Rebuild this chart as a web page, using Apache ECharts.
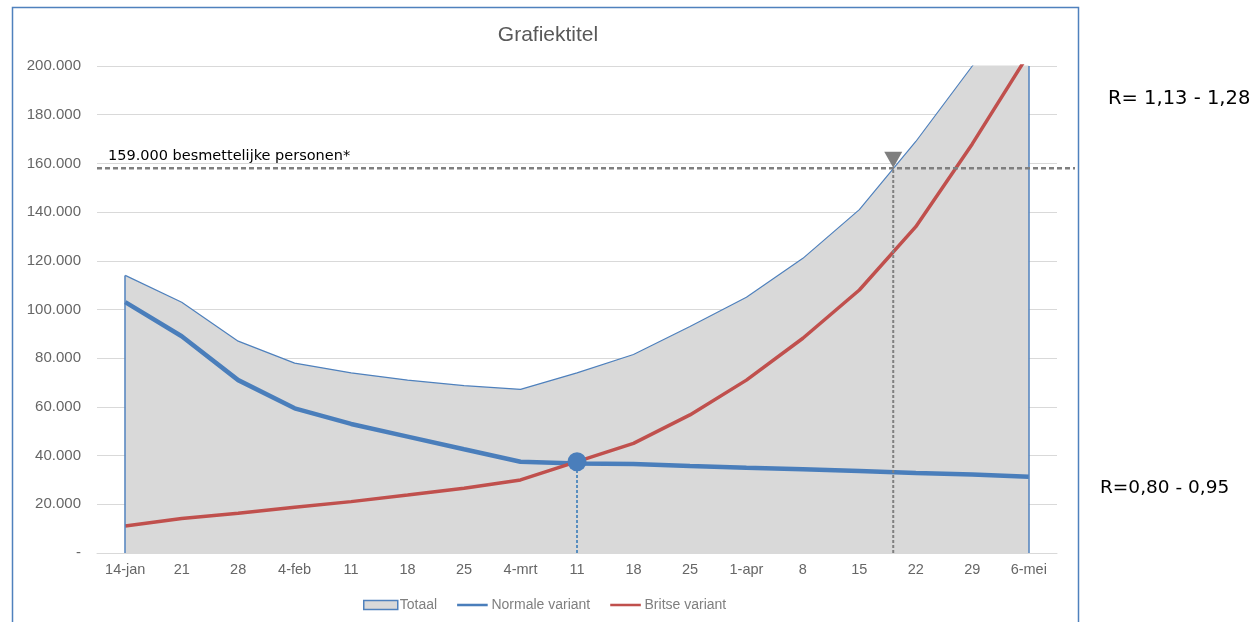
<!DOCTYPE html>
<html><head><meta charset="utf-8">
<script src="https://cdn.jsdelivr.net/npm/echarts@6/dist/echarts.min.js"></script>
<style>html,body{margin:0;padding:0;background:#fff}#c{width:1254px;height:622px}</style>
</head><body><div id="c"></div>
<script>
const categories = ['14-jan','21','28','4-feb','11','18','25','4-mrt','11','18','25','1-apr','8','15','22','29','6-mei'];
const totaal   = [114000,103000,87000,78000,74000,71000,68700,67200,74000,81500,93000,105000,121000,141000,169000,200000,236000];
const normale  = [103000,89000,71000,59400,53000,47800,42600,37500,36800,36500,35700,35000,34400,33700,32900,32200,31300];
const britse   = [11100,14200,16300,18800,21100,23800,26600,30000,37500,45000,56700,71000,88200,108000,134000,168000,205000];
const yTicks = { min: 0, max: 200000, interval: 20000 };
const drempel = 158000;            // 159.000 besmettelijke personen
const drempelLabel = '159.000 besmettelijke personen*';
const kruispuntIndex = 8;          // 11-mrt
const kruispuntWaarde = 37500;
const drempelIndex = 13.6;         // ~19-apr
const lineStartIndex = -0.5;
const triangleValue = 161500;
const rHoog = 'R= 1,13 - 1,28';
const rLaag = 'R=0,80 - 0,95';

const sans = "'Liberation Sans',Arial,sans-serif";
const wide = "'DejaVu Sans',sans-serif";
const fmt = v => v === 0 ? '-' : String(v).replace(/\B(?=(\d{3})+(?!\d))/g, '.');
const lineIcon = 'path://M0,0 L0,0 M34,10 L34,10 M0,3.6 H34 V6.4 H0 Z';

const BORDER = { x: 10, y: 5, w: 1066, h: 640 };

const chart = echarts.init(document.getElementById('c'));
chart.setOption({
  animation: false,
  title: { text: 'Grafiektitel', left: 543, top: 20, textAlign: 'center',
    textStyle: { fontFamily: sans, fontWeight: 'normal', fontSize: 21, color: '#595959' } },
  grid: { left: 97, right: 197, top: 66, bottom: 69 },
  legend: {
    top: 593, left: 358, itemWidth: 34, itemHeight: 9, itemGap: 20,
    textStyle: { fontFamily: sans, fontSize: 14, color: '#7f7f7f', padding: [0,0,0,-3] },
    data: [
      { name: 'Totaal', icon: 'rect', itemStyle: { color: '#d9d9d9', borderColor: '#4f81bd', borderWidth: 1.5 } },
      { name: 'Normale variant', icon: lineIcon, itemStyle: { color: '#4a7ebb', borderWidth: 0 } },
      { name: 'Britse variant', icon: lineIcon, itemStyle: { color: '#c0504d', borderWidth: 0 } }
    ]
  },
  xAxis: [{
    type: 'category', data: categories, boundaryGap: true,
    axisLine: { lineStyle: { color: '#d9d9d9' } }, axisTick: { show: false },
    axisLabel: { fontFamily: sans, fontSize: 14.5, color: '#666666', margin: 9, interval: 0 }
  }, {
    type: 'value', min: -0.5, max: 16.5, show: false
  }],
  yAxis: {
    type: 'value', min: yTicks.min, max: yTicks.max, interval: yTicks.interval,
    axisLine: { show: false }, axisTick: { show: false },
    splitLine: { lineStyle: { color: '#d9d9d9', width: 1 } },
    axisLabel: { fontFamily: sans, fontSize: 15, color: '#666666', margin: 16, formatter: fmt }
  },
  series: [
    { name: 'Totaal', type: 'line', data: totaal, symbol: 'none', z: 1,
      lineStyle: { color: '#4f81bd', width: 1.2 }, itemStyle: { color: '#4f81bd' },
      areaStyle: { color: '#d9d9d9', opacity: 1 },
      markLine: { silent: true, symbol: 'none', label: { show: false },
        lineStyle: { color: '#4f81bd', width: 1.5, type: 'solid' },
        data: [
          [{ coord: [0, 0] }, { coord: [0, totaal[0]] }],
          [{ coord: [16, 0] }, { coord: [16, yTicks.max] }]
        ] } },
    { name: 'Normale variant', type: 'line', data: normale, symbol: 'none', z: 3,
      lineStyle: { color: '#4a7ebb', width: 4.5 }, itemStyle: { color: '#4a7ebb' } },
    { name: 'Britse variant', type: 'line', data: britse, symbol: 'none', z: 4,
      lineStyle: { color: '#c0504d', width: 3.5 }, itemStyle: { color: '#c0504d' } },
    { name: 'drempelV', type: 'line', xAxisIndex: 1, symbol: 'none', z: 5, silent: true,
      data: [[drempelIndex, 0], [drempelIndex, drempel]],
      lineStyle: { color: '#808080', width: 2, type: [3, 2] } },
    { name: 'driehoek', type: 'scatter', xAxisIndex: 1, z: 6, silent: true,
      data: [[drempelIndex, triangleValue]], symbol: 'triangle', symbolRotate: 180, symbolSize: [18, 16],
      itemStyle: { color: '#7f7f7f', opacity: 1 } },
    { name: 'kruisV', type: 'line', symbol: 'none', z: 5, silent: true,
      data: [], markLine: { silent: true, symbol: 'none', label: { show: false },
        lineStyle: { color: '#2e75b6', width: 1.5, type: [3, 2] },
        data: [[{ coord: [kruispuntIndex, 0] }, { coord: [kruispuntIndex, kruispuntWaarde] }]] } },
    { name: 'kruispunt', type: 'scatter', z: 7, silent: true,
      data: [[kruispuntIndex, kruispuntWaarde]], symbol: 'circle', symbolSize: 19,
      itemStyle: { color: '#4a7ebb', opacity: 1 } }
  ]
});

const yPix = chart.convertToPixel({ yAxisIndex: 0 }, drempel);
const xPix = chart.convertToPixel({ xAxisIndex: 1 }, lineStartIndex);
chart.setOption({
  graphic: [
    { type: 'rect', left: BORDER.x, top: BORDER.y, shape: { width: BORDER.w, height: BORDER.h },
      style: { fill: 'none', stroke: '#4f81bd', lineWidth: 1.5 }, z: -1 },
    { type: 'line', z: 50, silent: true,
      shape: { x1: xPix, y1: yPix, x2: BORDER.x + BORDER.w - 1, y2: yPix },
      style: { stroke: '#7f7f7f', lineWidth: 2.5, lineDash: [5, 3] } },
    { type: 'text', z: 50, x: xPix + 11, y: yPix - 20,
      style: { text: drempelLabel, fontFamily: wide, fontSize: 14.5, fill: '#000' } },
    { type: 'text', left: 1108, top: 89, style: { text: rHoog, fontFamily: wide, fontSize: 19.5, fill: '#000' } },
    { type: 'text', left: 1100, top: 479, style: { text: rLaag, fontFamily: wide, fontSize: 18.5, fill: '#000' } }
  ]
});
</script></body></html>
